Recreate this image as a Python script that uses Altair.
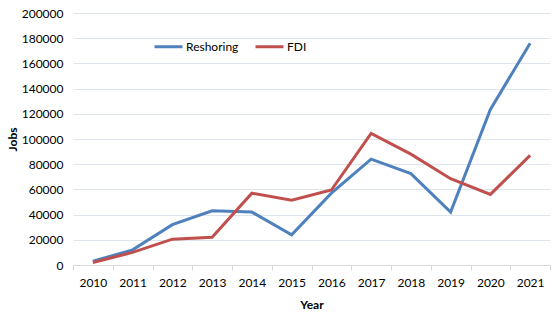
import altair as alt
import pandas as pd

years = ["2010", "2011", "2012", "2013", "2014", "2015", "2016", "2017", "2018", "2019", "2020", "2021"]
reshoring = [3000, 12000, 32000, 43000, 42000, 24000, 57000, 84000, 72500, 42000, 123500, 176000]
fdi = [2000, 10000, 20500, 22000, 57000, 51500, 59500, 104500, 88000, 68500, 56000, 87000]
series = ["Reshoring", "FDI"]
colors = ["#4F81BD", "#C0504D"]
y_ticks = [0, 20000, 40000, 60000, 80000, 100000, 120000, 140000, 160000, 180000, 200000]

rows = []
for name, vals in zip(series, [reshoring, fdi]):
    for yr, v in zip(years, vals):
        rows.append({"Year": yr, "Jobs": v, "Series": name})
df = pd.DataFrame(rows)

FONT = "Lato"

chart = alt.Chart(df).mark_line(strokeWidth=3).encode(
    x=alt.X(
        "Year:O",
        scale=alt.Scale(type="band", paddingInner=0, paddingOuter=0),
        bandPosition=0.5,
        axis=alt.Axis(
            title="Year",
            labelAngle=0,
            tickBand="extent",
            grid=False,
            domainColor="#d9d9d9",
            tickColor="#d9d9d9",
            tickSize=5,
            labelPadding=7,
            labelFontSize=12,
            labelColor="#000000",
            titleFontSize=12,
            titleFontWeight="bold",
            titleColor="#000000",
            titlePadding=11,
        ),
    ),
    y=alt.Y(
        "Jobs:Q",
        scale=alt.Scale(domain=[0, 200000]),
        axis=alt.Axis(
            title="Jobs",
            values=y_ticks,
            format="d",
            domain=False,
            ticks=False,
            labelPadding=10,
            labelFontSize=12,
            labelColor="#000000",
            gridColor="#dfe5ec",
            titleFontSize=12,
            titleFontWeight="bold",
            titleColor="#000000",
            titleX=-61,
            titleBaseline="middle",
        ),
    ),
    color=alt.Color(
        "Series:N",
        scale=alt.Scale(domain=series, range=colors),
        sort=series,
        legend=alt.Legend(
            title=None,
            orient="none",
            legendX=80,
            legendY=18,
            direction="horizontal",
            symbolType="stroke",
            symbolSize=784,
            symbolStrokeWidth=3,
            labelFontSize=12,
            labelColor="#000000",
            labelOffset=2,
            columnPadding=10,
        ),
    ),
).properties(
    width=477,
    height=252,
    padding={"left": 73, "top": 13, "right": 8, "bottom": 63},
    autosize=alt.AutoSizeParams(type="none"),
).configure(
    font=FONT,
).configure_view(
    stroke=None,
)

chart.save("out.html", embed_options={"renderer": "svg", "actions": False})
